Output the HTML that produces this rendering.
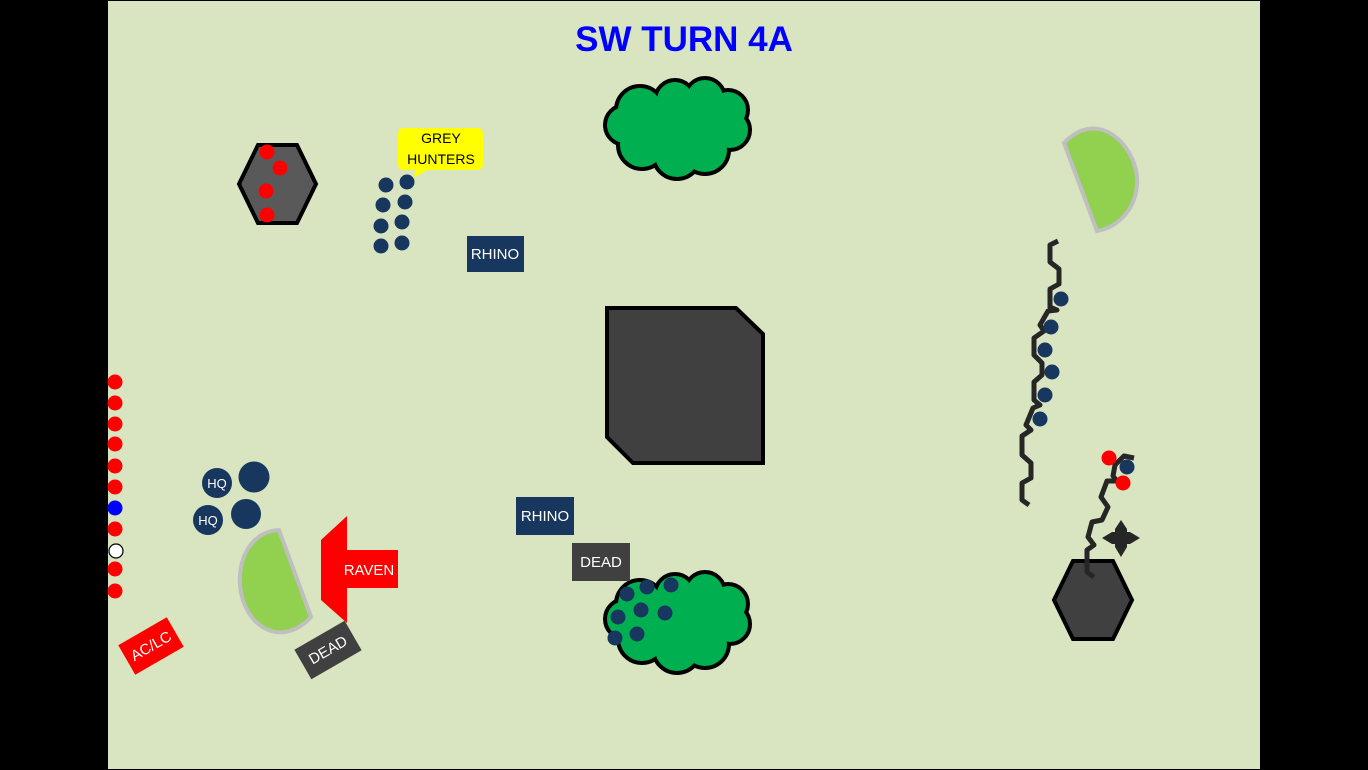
<!DOCTYPE html>
<html><head><style>html,body{margin:0;padding:0;background:#000}svg{display:block}</style></head><body>
<svg width="1368" height="770" viewBox="0 0 1368 770" xmlns="http://www.w3.org/2000/svg" font-family="Liberation Sans, sans-serif">
<rect width="1368" height="770" fill="#000"/>
<rect x="108" y="1" width="1152" height="768" fill="#d9e4c1"/>
<text x="684" y="51" font-size="35" font-weight="bold" fill="#0000ff" text-anchor="middle">SW TURN 4A</text>

<g id="bush1">
<g stroke="#000" stroke-width="8" fill="#00b050">
<circle cx="640" cy="110" r="22"/><circle cx="675" cy="100" r="18"/><circle cx="705" cy="98" r="18"/><circle cx="728" cy="110" r="18"/><circle cx="730" cy="130" r="18"/><circle cx="705" cy="150" r="22"/><circle cx="677" cy="155" r="22"/><circle cx="642" cy="145" r="22"/><circle cx="625" cy="125" r="18"/>
</g>
<g fill="#00b050">
<circle cx="640" cy="110" r="22"/><circle cx="675" cy="100" r="18"/><circle cx="705" cy="98" r="18"/><circle cx="728" cy="110" r="18"/><circle cx="730" cy="130" r="18"/><circle cx="705" cy="150" r="22"/><circle cx="677" cy="155" r="22"/><circle cx="642" cy="145" r="22"/><circle cx="625" cy="125" r="18"/><rect x="635" y="105" width="90" height="45"/>
</g>
</g>
<use href="#bush1" transform="translate(0,494)"/>

<polygon points="607,308 736,308 763,334 763,463 633,463 607,437" fill="#404040" stroke="#000" stroke-width="4"/>

<polygon points="239,184 258,145 297,145 316,184 297,223 258,223" fill="#595959" stroke="#000" stroke-width="4"/>
<polygon points="1054,600 1073,561 1113,561 1132,600 1113,639 1073,639" fill="#404040" stroke="#000" stroke-width="4"/>

<path d="M1064,143 C1100,105 1140,150 1137,185 C1135,212 1115,228 1097,231 Z" fill="#92d050" stroke="#bfbfbf" stroke-width="4"/>
<path d="M279,530 C250,532 238,560 240,585 C243,625 280,650 311,617 Z" fill="#92d050" stroke="#bfbfbf" stroke-width="4"/>

<g fill="none" stroke="#262626" stroke-width="5" stroke-linejoin="round">
<polyline points="1058,241 1050,245 1050,262 1059,269 1059,284 1050,289 1050,307 1057,310 1048,311 1040,325 1044,331 1034,338 1034,355 1042,363 1042,375 1034,382 1034,400 1040,405 1033,408 1026,425 1031,430 1022,436 1022,455 1031,463 1031,478 1022,483 1022,500 1029,505"/>
<polyline points="1134,458 1124,456 1115,465 1113,476 1117,481 1107,481 1101,497 1108,507 1102,520 1092,522 1088,537 1094,545 1087,550 1087,572 1094,577"/>
</g>
<path d="M1121,520 L1127,529 L1127,532 L1130,532 L1140,538 L1130,544 L1127,544 L1127,547 L1121,557 L1115,547 L1115,544 L1112,544 L1102,538 L1112,532 L1115,532 L1115,529 Z" fill="#262626"/>

<g fill="#ff0000">
<circle cx="115" cy="382" r="7.5"/><circle cx="115" cy="403" r="7.5"/><circle cx="115" cy="424" r="7.5"/><circle cx="115" cy="444" r="7.5"/><circle cx="115" cy="466" r="7.5"/><circle cx="115" cy="487" r="7.5"/><circle cx="115" cy="529" r="7.5"/><circle cx="115" cy="569" r="7.5"/><circle cx="115" cy="591" r="7.5"/>
<circle cx="267" cy="152" r="7.5"/><circle cx="280" cy="168" r="7.5"/><circle cx="266" cy="191" r="7.5"/><circle cx="267" cy="215" r="7.5"/>
<circle cx="1109" cy="458" r="7.5"/><circle cx="1123" cy="483" r="7.5"/>
</g>
<circle cx="115" cy="508" r="7.5" fill="#0000ff"/>
<circle cx="116" cy="551" r="7" fill="#fff" stroke="#000" stroke-width="1.2"/>

<g fill="#17375e">
<circle cx="386" cy="185" r="7.5"/><circle cx="407" cy="182" r="7.5"/><circle cx="383" cy="205" r="7.5"/><circle cx="405" cy="202" r="7.5"/><circle cx="381" cy="226" r="7.5"/><circle cx="402" cy="222" r="7.5"/><circle cx="381" cy="246" r="7.5"/><circle cx="402" cy="243" r="7.5"/>
<circle cx="627" cy="594" r="7.5"/><circle cx="647" cy="587" r="7.5"/><circle cx="671" cy="585" r="7.5"/><circle cx="618" cy="617" r="7.5"/><circle cx="641" cy="610" r="7.5"/><circle cx="665" cy="613" r="7.5"/><circle cx="615" cy="638" r="7.5"/><circle cx="637" cy="634" r="7.5"/>
<circle cx="1061" cy="299" r="7.5"/><circle cx="1051" cy="327" r="7.5"/><circle cx="1045" cy="350" r="7.5"/><circle cx="1052" cy="372" r="7.5"/><circle cx="1045" cy="395" r="7.5"/><circle cx="1040" cy="419" r="7.5"/><circle cx="1127" cy="467" r="7.5"/>
<circle cx="217" cy="483" r="15"/><circle cx="254" cy="477" r="15.5"/><circle cx="208" cy="520" r="15"/><circle cx="246" cy="514" r="15"/>
</g>
<g fill="#fff" font-size="13" text-anchor="middle">
<text x="217" y="488">HQ</text><text x="208" y="525">HQ</text>
</g>

<path d="M404,128 H477 Q483,128 483,134 V164 Q483,170 477,170 H428 L413,178 L416,170 H404 Q398,170 398,164 V134 Q398,128 404,128 Z" fill="#ffff00"/>
<text x="441" y="143" font-size="14" text-anchor="middle" fill="#000">GREY</text>
<text x="441" y="164" font-size="14" text-anchor="middle" fill="#000">HUNTERS</text>

<rect x="467" y="236" width="57" height="36" fill="#17375e"/>
<text x="495" y="259" font-size="15" fill="#fff" text-anchor="middle">RHINO</text>
<rect x="516" y="497" width="58" height="38" fill="#17375e"/>
<text x="545" y="521" font-size="15" fill="#fff" text-anchor="middle">RHINO</text>
<rect x="572" y="543" width="58" height="38" fill="#404040"/>
<text x="601" y="567" font-size="15" fill="#fff" text-anchor="middle">DEAD</text>

<polygon points="321,540 347,516 347,550 398,550 398,588 347,588 347,623 321,600" fill="#ff0000"/>
<text x="369" y="575" font-size="15" fill="#fff" text-anchor="middle">RAVEN</text>

<g transform="translate(151,646) rotate(-30)">
<rect x="-28" y="-17" width="56" height="34" fill="#ff0000"/>
<text x="0" y="5" font-size="15" fill="#fff" text-anchor="middle">AC/LC</text>
</g>
<g transform="translate(328,650) rotate(-30)">
<rect x="-29" y="-17" width="58" height="34" fill="#404040"/>
<text x="0" y="5" font-size="15" fill="#fff" text-anchor="middle">DEAD</text>
</g>
</svg>
</body></html>
